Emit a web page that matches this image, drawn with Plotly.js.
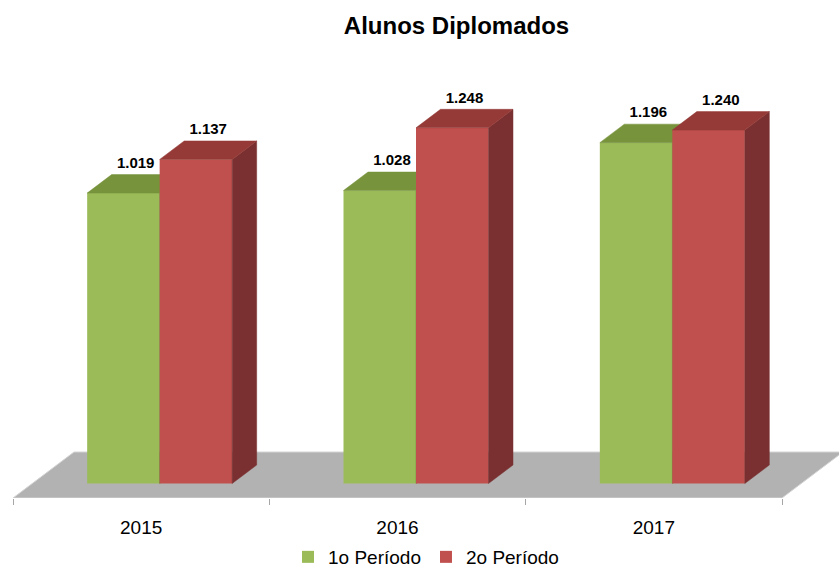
<!DOCTYPE html>
<html>
<head>
<meta charset="utf-8">
<script src="https://cdn.plot.ly/plotly-3.0.1.min.js"></script>
<style>html,body{margin:0;padding:0;background:#fff;}#chart{width:839px;height:569px;}</style>
</head>
<body>
<div id="chart"></div>
<script>
// ---- data ----
const years = ['2015', '2016', '2017'];
const periodo1 = [1019, 1028, 1196];
const periodo2 = [1137, 1248, 1240];
const seriesNames = ['1o Período', '2o Período'];

// ---- geometry / style (pixels) ----
const W = 839, H = 569;
const PLOT_L = 13, PLOT_R = 839, PLOT_T = 70, AXIS_Y = 498;
const CAT_PX = (782 - 13) / 3;
const ZERO_PX = 483.5, PX_PER_VAL = 0.285;
const BAR_PX = 72.5, SHIFT_PX = 18.5;
const BAR_DX_PX = 24.5, BAR_DY_PX = 18.5;
const FLOOR_DX_PX = 61, FLOOR_DY_PX = 46;
const LABEL_LIFT_PX = 3;

const xRange = [-0.5, -0.5 + (PLOT_R - PLOT_L) / CAT_PX];
const yRange = [-(AXIS_Y - ZERO_PX) / PX_PER_VAL, (ZERO_PX - PLOT_T) / PX_PER_VAL];
const bw = BAR_PX / CAT_PX, shift = SHIFT_PX / CAT_PX;
const ddx = BAR_DX_PX / CAT_PX, ddy = BAR_DY_PX / PX_PER_VAL;
const fdx = FLOOR_DX_PX / CAT_PX, fdy = FLOOR_DY_PX / PX_PER_VAL;
const lift = LABEL_LIFT_PX / PX_PER_VAL;

const colors = {
  g: {front: '#9bbb59', top: '#77933c', side: '#6b8535'},
  r: {front: '#c0504d', top: '#953a37', side: '#7a3030'}
};
const FONT = 'Liberation Sans, Arial, sans-serif';
const pos = years.map((_, i) => i);

function fmt(v) { return String(v).replace(/\B(?=(\d{3})+(?!\d))/g, '.'); }

function faces(vals, off) {
  const top = {x: [], y: []}, side = {x: [], y: []};
  vals.forEach((v, i) => {
    const x0 = pos[i] + off, x1 = x0 + bw;
    top.x.push(x0, x1, x1 + ddx, x0 + ddx, x0, null);
    top.y.push(v, v, v + ddy, v + ddy, v, null);
    side.x.push(x1, x1 + ddx, x1 + ddx, x1, x1, null);
    side.y.push(0, ddy, v + ddy, v, 0, null);
  });
  return {top, side};
}

function seriesTraces(vals, off, c, name, xa, ya) {
  const f = faces(vals, off);
  return [
    {type: 'bar', x: pos, y: vals, width: bw, offset: off, name: name,
     marker: {color: c.front, line: {width: 0}}, xaxis: xa, yaxis: ya, hoverinfo: 'skip'},
    {type: 'scatter', mode: 'lines', x: f.side.x, y: f.side.y, fill: 'toself', fillcolor: c.side,
     line: {width: 0.5, color: c.side}, showlegend: false, xaxis: xa, yaxis: ya, hoverinfo: 'skip'},
    {type: 'scatter', mode: 'lines', x: f.top.x, y: f.top.y, fill: 'toself', fillcolor: c.top,
     line: {width: 0.5, color: c.top}, showlegend: false, xaxis: xa, yaxis: ya, hoverinfo: 'skip'},
    {type: 'scatter', mode: 'text', x: pos.map(p => p + off + bw / 2 + ddx / 2),
     y: vals.map(v => v + ddy + lift), text: vals.map(fmt), textposition: 'top center',
     textfont: {family: FONT, size: 15, color: '#000', weight: 'bold'}, cliponaxis: false,
     showlegend: false, xaxis: xa, yaxis: ya, hoverinfo: 'skip'}
  ];
}

const data = [].concat(
  seriesTraces(periodo1, shift - bw, colors.g, seriesNames[0], 'x', 'y'),
  seriesTraces(periodo2, shift, colors.r, seriesNames[1], 'x2', 'y2')
);

const y0 = yRange[0];
const floorPath = 'M' + (-0.5) + ',' + y0 + ' L' + 2.5 + ',' + y0 + ' L' + (2.5 + fdx) + ',' + (y0 + fdy) +
  ' L' + (-0.5 + fdx) + ',' + (y0 + fdy) + ' Z';

const layout = {
  width: W, height: H,
  margin: {l: PLOT_L, r: W - PLOT_R, t: PLOT_T, b: H - AXIS_Y, pad: 0},
  paper_bgcolor: '#fff', plot_bgcolor: 'rgba(0,0,0,0)',
  font: {family: FONT, color: '#000'},
  title: {text: '<b>Alunos Diplomados</b>', font: {family: FONT, size: 24, color: '#000'},
          x: 456.5 / W, xref: 'container', xanchor: 'center', y: 1 - 26 / H, yref: 'container', yanchor: 'middle'},
  barmode: 'overlay',
  showlegend: true,
  legend: {orientation: 'h', x: 426 / W, xref: 'container', xanchor: 'center', y: 1 - 557 / H, yref: 'container',
           yanchor: 'middle', font: {family: FONT, size: 19, color: '#000'}, itemwidth: 30, tracegroupgap: 0,
           traceorder: 'normal'},
  xaxis: {type: 'linear', range: xRange, tickvals: pos, ticktext: years, ticks: '', showgrid: false, zeroline: false,
          showline: false, tickfont: {family: FONT, size: 19, color: '#000'}, ticklabelstandoff: 16,
          minor: {tickvals: [-0.5, 0.5, 1.5, 2.5], ticks: 'outside', ticklen: 6, tickwidth: 1, tickcolor: '#a6a6a6', showgrid: false},
          fixedrange: true},
  yaxis: {range: yRange, visible: false, showgrid: false, zeroline: false, fixedrange: true},
  xaxis2: {overlaying: 'x', matches: 'x', range: xRange, visible: false, fixedrange: true},
  yaxis2: {overlaying: 'y', matches: 'y', range: yRange, visible: false, fixedrange: true},
  shapes: [
    {type: 'path', xref: 'x', yref: 'y', path: floorPath, fillcolor: '#b2b2b2', line: {color: '#d4d4d4', width: 1}, layer: 'below'}
  ]
};

Plotly.newPlot('chart', data, layout, {displayModeBar: false, staticPlot: true});
</script>
</body>
</html>
